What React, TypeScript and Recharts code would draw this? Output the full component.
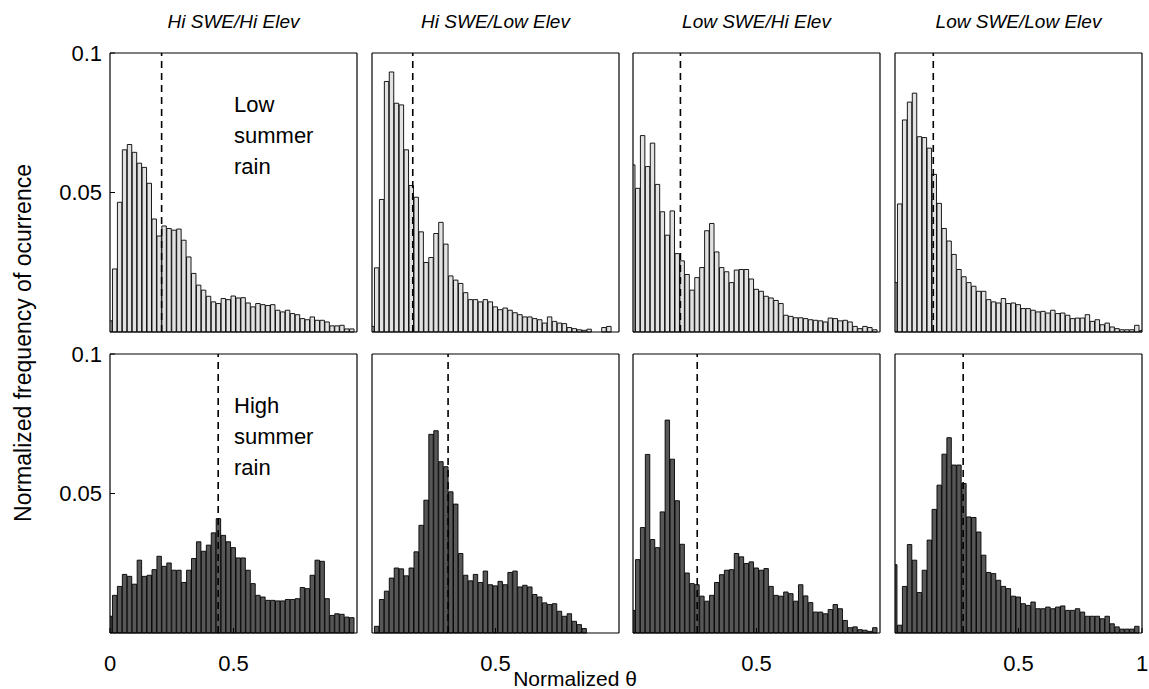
import { BarChart, Bar, XAxis, YAxis, ReferenceLine } from 'recharts'

// bin centres of the normalized theta histograms
const bins = [
  0, 0.02, 0.04, 0.06, 0.08, 0.1, 0.12, 0.14, 0.16, 0.18,
  0.2, 0.22, 0.24, 0.26, 0.28, 0.3, 0.32, 0.34, 0.36, 0.38,
  0.4, 0.42, 0.44, 0.46, 0.48, 0.5, 0.52, 0.54, 0.56, 0.58,
  0.6, 0.62, 0.64, 0.66, 0.68, 0.7, 0.72, 0.74, 0.76, 0.78,
  0.8, 0.82, 0.84, 0.86, 0.88, 0.9, 0.92, 0.94, 0.96, 0.98, 1,
]

const titles = ['Hi SWE/Hi Elev', 'Hi SWE/Low Elev', 'Low SWE/Hi Elev', 'Low SWE/Low Elev']

// low summer rain (top row)
const lowHiSweHiElev = [
  .004, .0226, .0465, .0653, .0672, .0644, .0605, .059, .0533, .0405,
  .0344, .038, .0371, .0365, .0369, .0329, .0269, .021, .0168, .015,
  .0128, .0108, .0102, .012, .0116, .0129, .0122, .0123, .0104, .009,
  .0102, .0098, .0095, .0098, .0078, .0072, .0078, .0066, .0062, .0048,
  .0044, .0054, .0042, .0042, .0036, .0022, .0022, .0024, .0011, .0011, 0,
]
const lowHiSweLowElev = [
  .002, .023, .0475, .0898, .0932, .082, .0814, .0653, .0525, .0483,
  .0359, .0249, .0267, .0353, .0393, .0315, .0201, .0186, .0174, .0141,
  .0116, .0116, .0108, .0116, .0108, .009, .008, .0086, .0078, .0069,
  .0062, .0054, .0054, .0048, .0044, .0032, .0054, .0038, .0032, .003,
  .0016, .0012, .0008, .0006, .001, 0, 0, .0016, .002, 0, 0,
]
const lowLowSweHiElev = [
  .0599, .0515, .0704, .0593, .0677, .0529, .0431, .0347, .0434, .0281,
  .0255, .0206, .015, .0195, .0231, .0363, .0389, .0287, .0231, .0216,
  .0177, .0222, .0224, .0224, .019, .0153, .0146, .0128, .0122, .0113,
  .0102, .006, .0056, .0051, .0051, .0048, .0044, .0042, .004, .0036,
  .005, .0048, .004, .0042, .0036, .002, .0012, .002, .0016, .0008, 0,
]
const lowLowSweLowElev = [
  .0177, .0459, .076, .0824, .0856, .07, .0697, .0659, .0565, .0461,
  .0371, .0326, .0278, .0224, .0198, .0177, .0164, .0146, .0146, .0116,
  .0108, .0104, .012, .0102, .0104, .0098, .0084, .0084, .0078, .0072,
  .0074, .0068, .0078, .0066, .0068, .006, .0048, .005, .005, .0062,
  .0038, .0044, .0026, .0032, .0018, .0012, .0008, .0008, .0008, .0024, .0005,
]

// high summer rain (bottom row)
const highHiSweHiElev = [
  .006, .0135, .0167, .021, .0203, .0175, .0261, .0203, .0207, .0227,
  .0275, .0239, .0251, .0225, .0225, .0181, .0225, .0267, .0327, .0293,
  .0315, .0359, .041, .035, .0327, .0306, .0269, .0269, .0225, .0177,
  .0135, .0129, .0117, .0117, .0115, .0115, .012, .012, .0123, .0163,
  .0159, .0207, .0261, .0257, .0123, .0063, .0069, .0067, .0057, .0055, 0,
]
const highHiSweLowElev = [
  0, .0024, .012, .015, .0197, .0233, .023, .0205, .0233, .0291,
  .0386, .0476, .0712, .0725, .0614, .0596, .0506, .0462, .0285, .0207,
  .0187, .021, .0181, .0222, .0173, .0169, .0185, .0173, .0217, .0222,
  .0165, .0171, .0165, .0138, .0129, .0108, .0102, .0105, .0078, .006,
  .0069, .0042, .003, .0016, 0, 0, 0, 0, 0, 0, 0,
]
const highLowSweHiElev = [
  .0081, .0263, .0378, .064, .0335, .0306, .0434, .0763, .0623, .0474,
  .0318, .0215, .0177, .0173, .0132, .0114, .0135, .0181, .0209, .0225,
  .0227, .0285, .0273, .0249, .0255, .0233, .0225, .0231, .0167, .0135,
  .0132, .0147, .0141, .0114, .0173, .0133, .0109, .0075, .0075, .0069,
  .0084, .0102, .0087, .0045, .0019, .0022, .0012, .001, .0006, .0019, 0,
]
const highLowSweLowElev = [
  .0245, .0028, .0167, .0317, .0261, .0145, .0225, .0333, .0443, .053,
  .0641, .07, .0602, .0602, .0536, .0416, .0414, .0362, .0279, .0217,
  .0213, .0189, .0167, .0159, .0132, .0129, .0105, .0099, .0111, .0087,
  .0087, .0093, .0087, .0093, .0097, .0081, .0081, .0087, .0075, .006,
  .006, .006, .0051, .006, .0033, .0022, .0014, .0014, .0014, .0024, 0,
]

// dashed lines (median of each distribution)
const medianLow = [0.209, 0.165, 0.192, 0.155]
const medianHigh = [0.438, 0.308, 0.26, 0.276]

const yTicks = [0.05, 0.1]
const xTickSets = [[0, 0.5], [0.5], [0.5], [0.5, 1]]
const minorTicks = [
  0, 0.05, 0.1, 0.15, 0.2, 0.25, 0.3, 0.35, 0.4, 0.45, 0.5,
  0.55, 0.6, 0.65, 0.7, 0.75, 0.8, 0.85, 0.9, 0.95, 1,
]

const rows = [
  { series: [lowHiSweHiElev, lowHiSweLowElev, lowLowSweHiElev, lowLowSweLowElev], medians: medianLow, fill: '#e2e2e2' },
  { series: [highHiSweHiElev, highHiSweLowElev, highLowSweHiElev, highLowSweLowElev], medians: medianHigh, fill: '#575757' },
]

const FONT = '"Liberation Sans", Arial, Helvetica, sans-serif'
const COL_X = [110, 372, 633, 895]
const ROW_Y = [53, 354]
const PW = 247
const PH = 279
// outer space around each plot box, taken by the axes themselves
const AX = { top: 20, right: 10, bottom: 45, left: 60 }
const tickStyle = { fontSize: 22, fill: '#000', fontFamily: FONT }
const frame = { stroke: '#000', strokeWidth: 1.2 }

function Panel({ values, median, fill, row, col }: {
  values: number[]; median: number; fill: string; row: number; col: number
}) {
  const data = bins.map((x, i) => ({ x, v: values[i] }))
  const isBottom = row === 1
  const isFirst = col === 0
  return (
    <div style={{ position: 'absolute', left: COL_X[col] - AX.left, top: ROW_Y[row] - AX.top }}>
      <BarChart width={PW + AX.left + AX.right} height={PH + AX.top + AX.bottom} data={data}
        margin={{ top: 0, right: 0, bottom: 0, left: 0 }}>
        <XAxis xAxisId="b" dataKey="x" type="number" domain={[0, 1]} allowDataOverflow height={AX.bottom}
          ticks={isBottom ? xTickSets[col] : [0.5]} interval={0}
          tick={isBottom ? tickStyle : false} tickSize={-5} tickMargin={27}
          axisLine={frame} tickLine={{ stroke: '#000' }} />
        <XAxis xAxisId="t" dataKey="x" orientation="top" type="number" domain={[0, 1]} height={AX.top}
          ticks={minorTicks} interval={0} tick={false} tickSize={-3}
          axisLine={frame} tickLine={{ stroke: '#666' }} />
        <YAxis yAxisId="l" type="number" domain={[0, 0.1]} width={AX.left}
          ticks={isFirst ? yTicks : [0.05]} interval={0}
          tick={isFirst ? tickStyle : false} tickSize={-5} tickMargin={13}
          tickFormatter={(v) => String(v)}
          axisLine={frame} tickLine={{ stroke: '#000' }} />
        <YAxis yAxisId="r" orientation="right" type="number" domain={[0, 0.1]} width={AX.right}
          ticks={[0.05]} tick={false} tickSize={-5}
          axisLine={frame} tickLine={{ stroke: '#000' }} />
        <Bar xAxisId="b" yAxisId="l" dataKey="v" barSize={PW / 50} fill={fill}
          stroke="#000" strokeWidth={0.9} isAnimationActive={false} />
        <ReferenceLine xAxisId="b" yAxisId="l" x={median} stroke="#000"
          strokeDasharray="7 5" strokeWidth={1.6} />
      </BarChart>
    </div>
  )
}

const noteStyle = {
  position: 'absolute' as const, fontFamily: FONT, fontSize: 22, lineHeight: '31px', color: '#000',
}

export default function App() {
  return (
    <div style={{ position: 'relative', width: 1149, height: 689, background: '#fff', fontFamily: FONT, overflow: 'hidden' }}>
      <style>{'body { margin: 0; }'}</style>
      {rows.map((r, ri) => r.series.map((s, ci) => (
        <Panel key={`${ri}-${ci}`} values={s} median={r.medians[ci]} fill={r.fill} row={ri} col={ci} />
      )))}
      {titles.map((t, c) => (
        <div key={t} style={{
          position: 'absolute', left: COL_X[c], width: PW, top: 10, textAlign: 'center',
          fontSize: 19, fontStyle: 'italic', lineHeight: '24px',
        }}>{t}</div>
      ))}
      <div style={{ ...noteStyle, left: 234, top: 89 }}>Low<br />summer<br />rain</div>
      <div style={{ ...noteStyle, left: 234, top: 390 }}>High<br />summer<br />rain</div>
      <div style={{
        position: 'absolute', left: 23 - 300, top: 343 - 13, width: 600, height: 26,
        textAlign: 'center', fontSize: 23, lineHeight: '26px', transform: 'rotate(-90deg)',
      }}>Normalized frequency of ocurrence</div>
      <div style={{
        position: 'absolute', left: 475, width: 200, top: 670, textAlign: 'center',
        fontSize: 21, lineHeight: '18px',
      }}>Normalized θ</div>
    </div>
  )
}
